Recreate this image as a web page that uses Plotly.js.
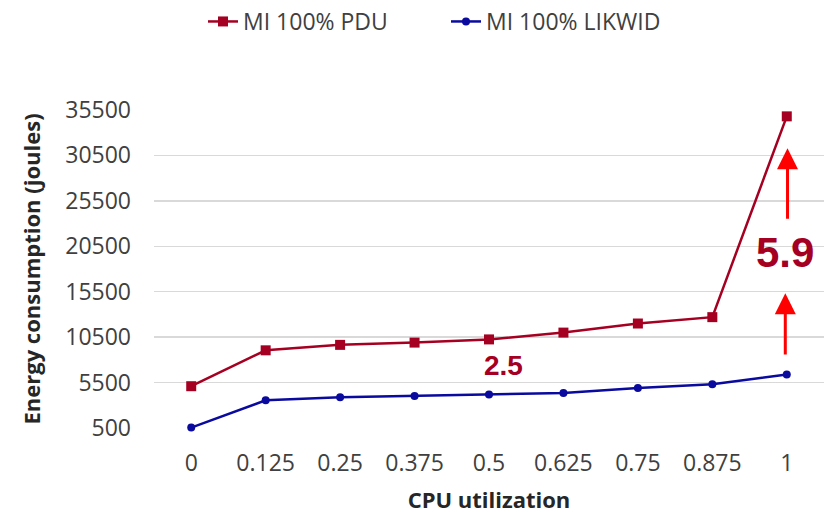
<!DOCTYPE html>
<html>
<head>
<meta charset="utf-8">
<script src="https://cdn.plot.ly/plotly-3.0.1.min.js"></script>
<style>
  html, body { margin: 0; padding: 0; background: #fff; }
  #chart { width: 827px; height: 514px; }
</style>
</head>
<body>
<div id="chart"></div>
<script>
// CPU utilization levels (category axis)
const cpuUtil = ['0', '0.125', '0.25', '0.375', '0.5', '0.625', '0.75', '0.875', '1'];

// Energy consumption in joules, measured by PDU and by LIKWID
const pduJoules    = [5100, 9050, 9650, 9900, 10250, 11000, 12000, 12700, 34800];
const likwidJoules = [550, 3550, 3880, 4020, 4180, 4350, 4900, 5310, 6400];

// Y axis ticks
const yTicks = [500, 5500, 10500, 15500, 20500, 25500, 30500, 35500];
const yTickText = yTicks.map(String);

const RED = '#A50021';
const BLUE = '#0A0A9E';
const ARROW = '#FF0000';

const traces = [
  {
    x: cpuUtil, y: pduJoules, name: 'MI 100% PDU',
    type: 'scatter', mode: 'lines+markers', cliponaxis: false,
    line: { color: RED, width: 2.5 },
    marker: { symbol: 'square', size: 10, color: RED }
  },
  {
    x: cpuUtil, y: likwidJoules, name: 'MI 100% LIKWID',
    type: 'scatter', mode: 'lines+markers', cliponaxis: false,
    line: { color: BLUE, width: 2.5 },
    marker: { symbol: 'circle', size: 8, color: BLUE }
  }
];

const layout = {
  width: 827, height: 514,
  margin: { l: 154, r: 3, t: 110, b: 86 },
  paper_bgcolor: '#fff', plot_bgcolor: '#fff',
  font: { family: 'Open Sans, sans-serif', size: 23, color: '#404040' },
  showlegend: true,
  legend: {
    orientation: 'h', x: 203 / 827, xref: 'container', xanchor: 'left',
    y: 1, yref: 'container', yanchor: 'top',
    font: { size: 23, color: '#404040' },
    entrywidth: 198, entrywidthmode: 'pixels', tracegroupgap: 0
  },
  xaxis: {
    type: 'category', range: [-0.5, 8.5], fixedrange: true,
    showgrid: false, zeroline: false, showline: false, ticks: '',
    ticklabelstandoff: 19,
    tickfont: { size: 23, color: '#404040' },
    title: { text: '<b>CPU utilization</b>', font: { size: 22, color: '#262626' }, standoff: 18 }
  },
  yaxis: {
    range: [500, 35500], tickvals: yTicks, ticktext: yTickText, fixedrange: true,
    showgrid: true, gridcolor: '#D9D9D9', gridwidth: 1.5,
    zeroline: false, showline: false, ticks: '',
    ticklabelstandoff: 22,
    tickfont: { size: 23, color: '#404040' },
    title: { text: '<b>Energy consumption (joules)</b>', font: { size: 22, color: '#262626' }, standoff: 18 }
  },
  annotations: [
    { x: 4.2, y: 7400, xref: 'x', yref: 'y', text: '<b>2.5</b>', showarrow: false,
      font: { family: 'Liberation Sans, Arial, sans-serif', size: 28, color: RED } },
    { x: 7.97, y: 19850, xref: 'x', yref: 'y', text: '<b>5.9</b>', showarrow: false,
      font: { family: 'Liberation Sans, Arial, sans-serif', size: 42, color: RED } },
    { x: 8.01, y: 31300, ax: 8.01, ay: 23370, xref: 'x', yref: 'y', axref: 'x', ayref: 'y',
      text: '', showarrow: true, arrowhead: 2, arrowsize: 1.4, arrowwidth: 3, arrowcolor: ARROW },
    { x: 7.98, y: 15330, ax: 7.98, ay: 8430, xref: 'x', yref: 'y', axref: 'x', ayref: 'y',
      text: '', showarrow: true, arrowhead: 2, arrowsize: 1.4, arrowwidth: 3, arrowcolor: ARROW }
  ]
};

Plotly.newPlot('chart', traces, layout, { displayModeBar: false, staticPlot: true });
</script>
</body>
</html>
